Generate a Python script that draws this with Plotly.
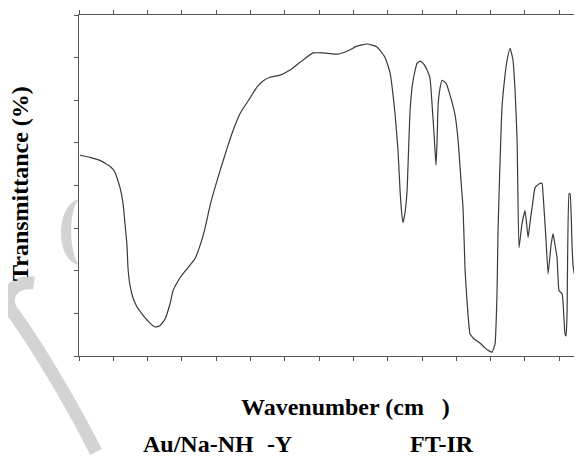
import plotly.graph_objects as go

# FT-IR spectrum
wavenumber = [3993, 3920, 3847, 3774, 3738, 3701, 3679, 3665, 3650, 3643, 3628, 3606, 3577, 3541,
              3497, 3446, 3410, 3373, 3337, 3315, 3278, 3242, 3206, 3155, 3118, 3082, 3045, 3009,
              2972, 2921, 2877, 2826, 2754, 2703, 2659, 2608, 2535, 2462, 2389, 2294, 2221, 2119,
              2047, 1974, 1901, 1828, 1770, 1733, 1697, 1675, 1660, 1646, 1638, 1624, 1609, 1587,
              1565, 1536, 1514, 1493, 1463, 1442, 1420, 1405, 1398, 1390, 1383, 1369, 1354, 1325,
              1296, 1259, 1237, 1216, 1201, 1186, 1172, 1150, 1121, 1099, 1070, 1041, 1012, 990,
              968, 953, 946, 931, 917, 895, 880, 858, 837, 822, 807, 793, 771, 749, 727, 713, 698,
              676, 654, 640, 625, 618, 596, 581, 560, 545, 530, 516, 501, 479, 458, 450, 443, 428,
              421, 407, 399, 385, 370, 363, 348, 334]
transmittance = [47.1, 46.6, 45.9, 44.5, 43.1, 39.5, 35.8, 31.1, 25.9, 20.7, 16.5, 13.6, 11.5, 9.9,
                 8.2, 6.8, 7.1, 8.7, 12.2, 15.3, 17.6, 19.3, 20.7, 22.8, 25.9, 29.9, 35.3, 39.5,
                 43.5, 48.7, 52.9, 56.9, 60.5, 63.1, 64.5, 65.4, 65.9, 67.1, 68.9, 71.1, 71.1, 70.8,
                 71.5, 72.7, 73.2, 72.5, 70.1, 66.4, 56.9, 48.2, 38.8, 32.9, 31.3, 33.6, 38.8, 57.6,
                 64.7, 68.7, 69.2, 68.7, 67.1, 65.2, 55.8, 48.2, 44.7, 50.6, 58.8, 62.8, 64.7, 64.0,
                 61.2, 56.5, 50.6, 41.2, 34.8, 20.0, 12.9, 5.2, 4.0, 3.5, 2.8, 1.9, 1.2, 0.9,
                 2.8, 15.3, 29.4, 45.9, 58.4, 65.9, 69.4, 72.2, 69.4, 62.4, 50.6, 25.4, 31.1, 34.1,
                 27.8, 31.3, 34.8, 39.5, 40.2, 40.5, 40.5, 38.1, 27.1, 19.3, 25.9, 28.7, 25.9, 23.1,
                 15.3, 14.6, 5.2, 4.7, 9.9, 38.1, 38.1, 26.4, 21.2, 18.8, 20.7, 34.1, 30.1, 48.2]

x_title = "Wavenumber (cm   )"
y_title = "Transmittance (%)"
caption_parts = ["Au/Na-NH", "-Y", "FT-IR"]

serif = "Liberation Serif, Times New Roman, serif"

fig = go.Figure()
fig.add_trace(go.Scatter(x=wavenumber, y=transmittance, mode="lines",
                         line=dict(color="#3a3a3a", width=1.2, shape="spline", smoothing=0.4),
                         hoverinfo="skip", showlegend=False))

# the page body has an 8px margin, so the figure is made 8px smaller
OFF = 8
W, H = 582 - OFF, 456 - OFF
L, R, T, B = 79 - OFF, 0, 15 - OFF, 100
pw, ph = W - L - R, H - T - B


def px(x):  # reference-picture pixel -> paper
    return (x - OFF - L) / pw


def py(y):
    return (H - B - (y - OFF)) / ph


def P(x, y):
    return "%.4f %.4f" % (px(x), py(y))


# light grey watermark (crescent + curled stroke) on the left
wm = "#d3d3d3"
crescent = ("M " + P(79, 199) + " C " + P(56, 204) + " " + P(54, 260) + " " + P(79, 265)
            + " C " + P(69, 252) + " " + P(68, 212) + " " + P(79, 199) + " Z")
fig.add_shape(type="path", xref="paper", yref="paper", path=crescent,
              fillcolor=wm, line=dict(width=0), layer="below")
stroke = ("M " + P(34, 283) + " C " + P(10, 280) + " " + P(2, 300) + " " + P(14, 314)
          + " C " + P(40, 350) + " " + P(75, 410) + " " + P(96, 452))
fig.add_shape(type="path", xref="paper", yref="paper", path=stroke,
              line=dict(color=wm, width=13), layer="below")

fig.update_xaxes(range=[4000, 334], tick0=4000, dtick=250, showticklabels=False,
                 ticks="outside", ticklen=4, tickcolor="#555", showline=True,
                 linecolor="#555", linewidth=1, mirror="ticks", showgrid=False,
                 zeroline=False)
fig.update_yaxes(range=[0, 80], tick0=0, dtick=10, showticklabels=False,
                 ticks="outside", ticklen=4, tickcolor="#555", showline=True,
                 linecolor="#555", linewidth=1, mirror=False, showgrid=False,
                 zeroline=False)

tf = dict(family=serif, size=24, color="black")
fig.add_annotation(text="<b>" + y_title + "</b>", xref="paper", yref="paper",
                   x=px(20), y=py(184), textangle=-90, showarrow=False, font=tf,
                   xanchor="center", yanchor="middle")
fig.add_annotation(text="<b>" + x_title + "</b>", xref="paper", yref="paper",
                   x=px(239), y=py(407), showarrow=False, font=tf,
                   xanchor="left", yanchor="middle")
for part, xl in zip(caption_parts, [141, 265, 408]):
    fig.add_annotation(text="<b>" + part + "</b>", xref="paper", yref="paper",
                       x=px(xl), y=py(444), showarrow=False, font=tf,
                       xanchor="left", yanchor="middle")

fig.update_layout(width=W, height=H, margin=dict(l=L, r=R, t=T, b=B),
                  paper_bgcolor="white", plot_bgcolor="rgba(0,0,0,0)")

fig.write_html("out.html")
